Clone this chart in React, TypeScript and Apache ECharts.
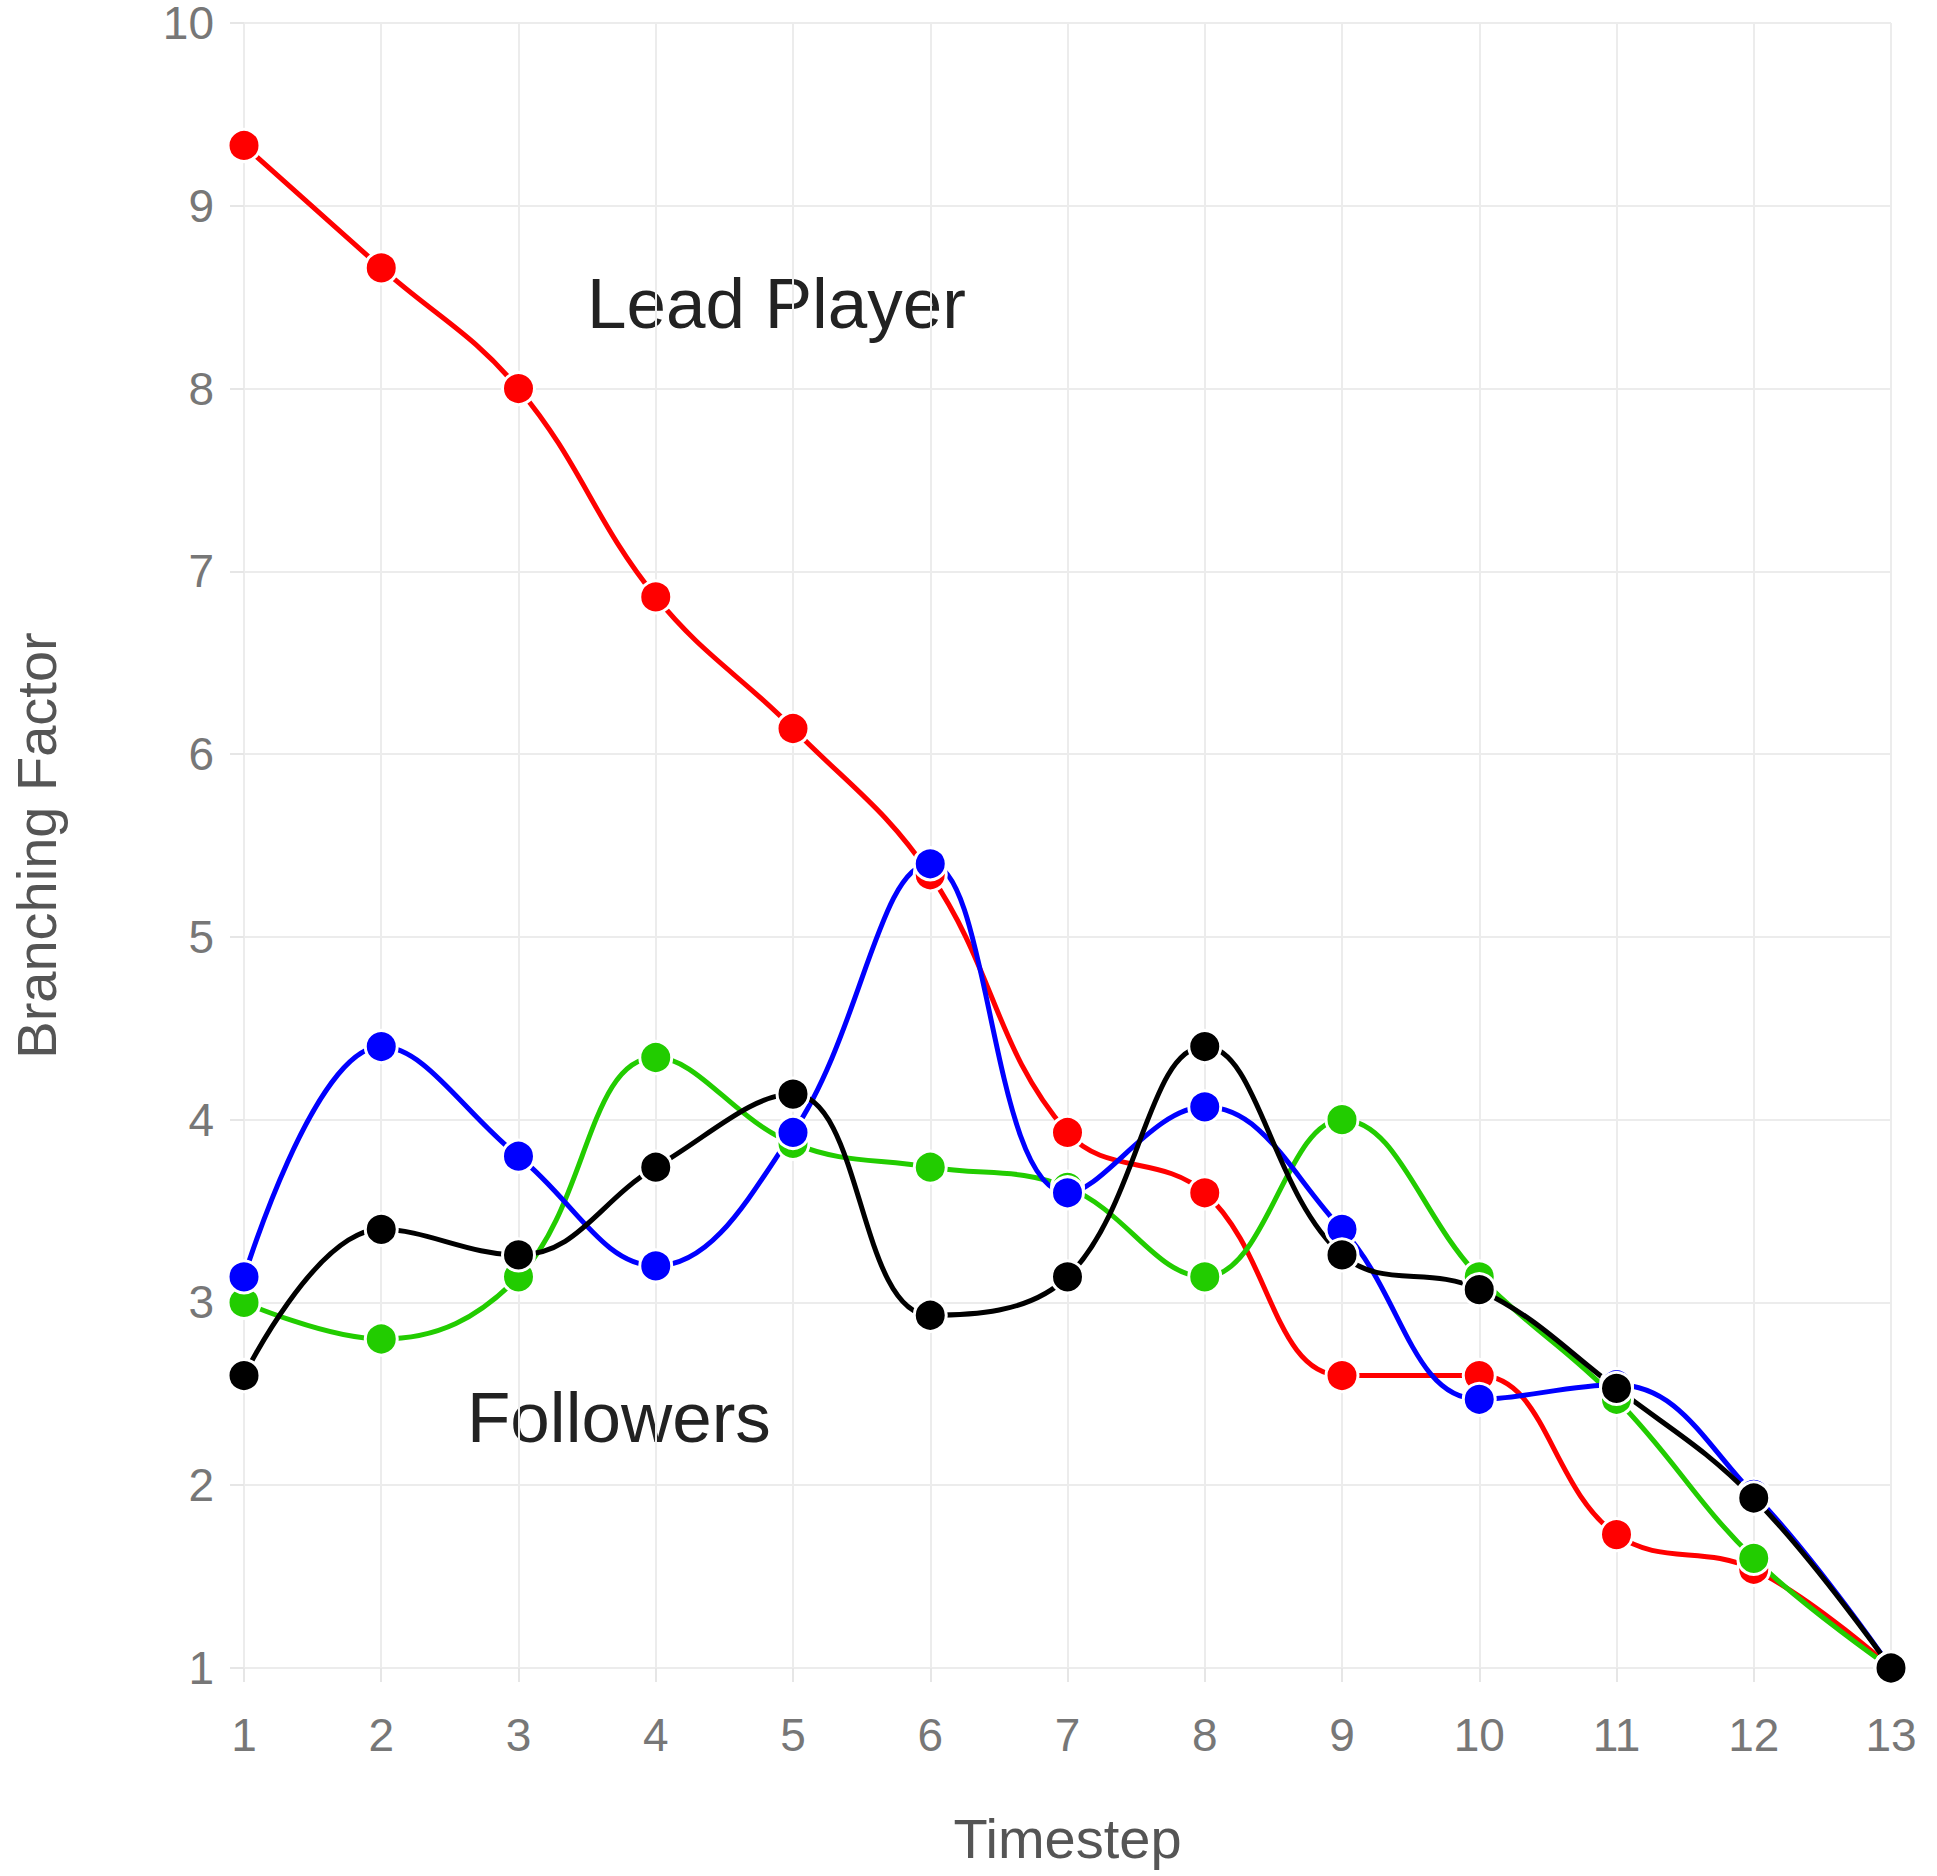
import { useEffect, useRef } from "react";
import * as echarts from "echarts";

const timesteps = [1, 2, 3, 4, 5, 6, 7, 8, 9, 10, 11, 12, 13];
const leadValues = [9.33, 8.66, 8.0, 6.86, 6.14, 5.34, 3.93, 3.6, 2.6, 2.6, 1.73, 1.54, 1];
const greenValues = [3.0, 2.8, 3.14, 4.34, 3.87, 3.74, 3.63, 3.14, 4.0, 3.14, 2.47, 1.6, 1];
const blueValues = [3.14, 4.4, 3.8, 3.2, 3.93, 5.4, 3.6, 4.07, 3.4, 2.47, 2.55, 1.95, 1];
const blackValues = [2.6, 3.4, 3.26, 3.74, 4.14, 2.93, 3.14, 4.4, 3.26, 3.07, 2.53, 1.93, 1];

const font = '"Helvetica Neue", "Liberation Sans", Arial, sans-serif';

function makeSeries(name: string, values: number[], color: string) {
  return {
    name,
    type: "line",
    smooth: 0.4,
    data: timesteps.map((t, i) => [t, values[i]]),
    lineStyle: { color, width: 5 },
    itemStyle: { color, borderColor: "#fff", borderWidth: 3 },
    symbol: "circle",
    symbolSize: 32,
  };
}

export default function App() {
  const chartRef = useRef<HTMLDivElement>(null);

  useEffect(() => {
    if (!chartRef.current) return;
    const chart = echarts.init(chartRef.current, null, { renderer: "svg" });

    chart.setOption({
      animation: false,
      backgroundColor: "#fff",
      grid: { left: 235, right: 46, top: 22, bottom: 208 },
      xAxis: {
        type: "value",
        min: 1,
        max: 13,
        interval: 1,
        name: "Timestep",
        nameLocation: "middle",
        nameGap: 142,
        nameTextStyle: { color: "#555", fontSize: 56, fontFamily: font },
        axisLine: { show: false },
        axisTick: { show: true, length: 14, lineStyle: { color: "#e6e6e6", width: 2 } },
        axisLabel: { color: "#777", fontSize: 46, fontFamily: font, margin: 44 },
        splitLine: { lineStyle: { color: "#ececec", width: 2 } },
      },
      yAxis: {
        type: "value",
        min: 1,
        max: 10,
        interval: 1,
        name: "Branching Factor",
        nameLocation: "middle",
        nameGap: 180,
        nameTextStyle: { color: "#555", fontSize: 56, fontFamily: font },
        axisLine: { show: false },
        axisTick: { show: true, length: 14, lineStyle: { color: "#e6e6e6", width: 2 } },
        axisLabel: { color: "#777", fontSize: 46, fontFamily: font, margin: 30 },
        splitLine: { lineStyle: { color: "#ececec", width: 2 } },
      },
      graphic: [
        {
          type: "text",
          left: 587,
          top: 268,
          style: { text: "Lead Player", fontSize: 71, fill: "#222", fontFamily: font },
        },
        {
          type: "text",
          left: 467,
          top: 1382,
          style: { text: "Followers", fontSize: 71, fill: "#222", fontFamily: font },
        },
      ],
      series: [
        makeSeries("Lead", leadValues, "#ff0000"),
        makeSeries("Green", greenValues, "#22cc00"),
        makeSeries("Blue", blueValues, "#0000ff"),
        makeSeries("Black", blackValues, "#000000"),
      ],
    });

    return () => chart.dispose();
  }, []);

  return (
    <div
      ref={chartRef}
      style={{ position: "absolute", left: 0, top: 0, width: 1937, height: 1876 }}
    ></div>
  );
}
